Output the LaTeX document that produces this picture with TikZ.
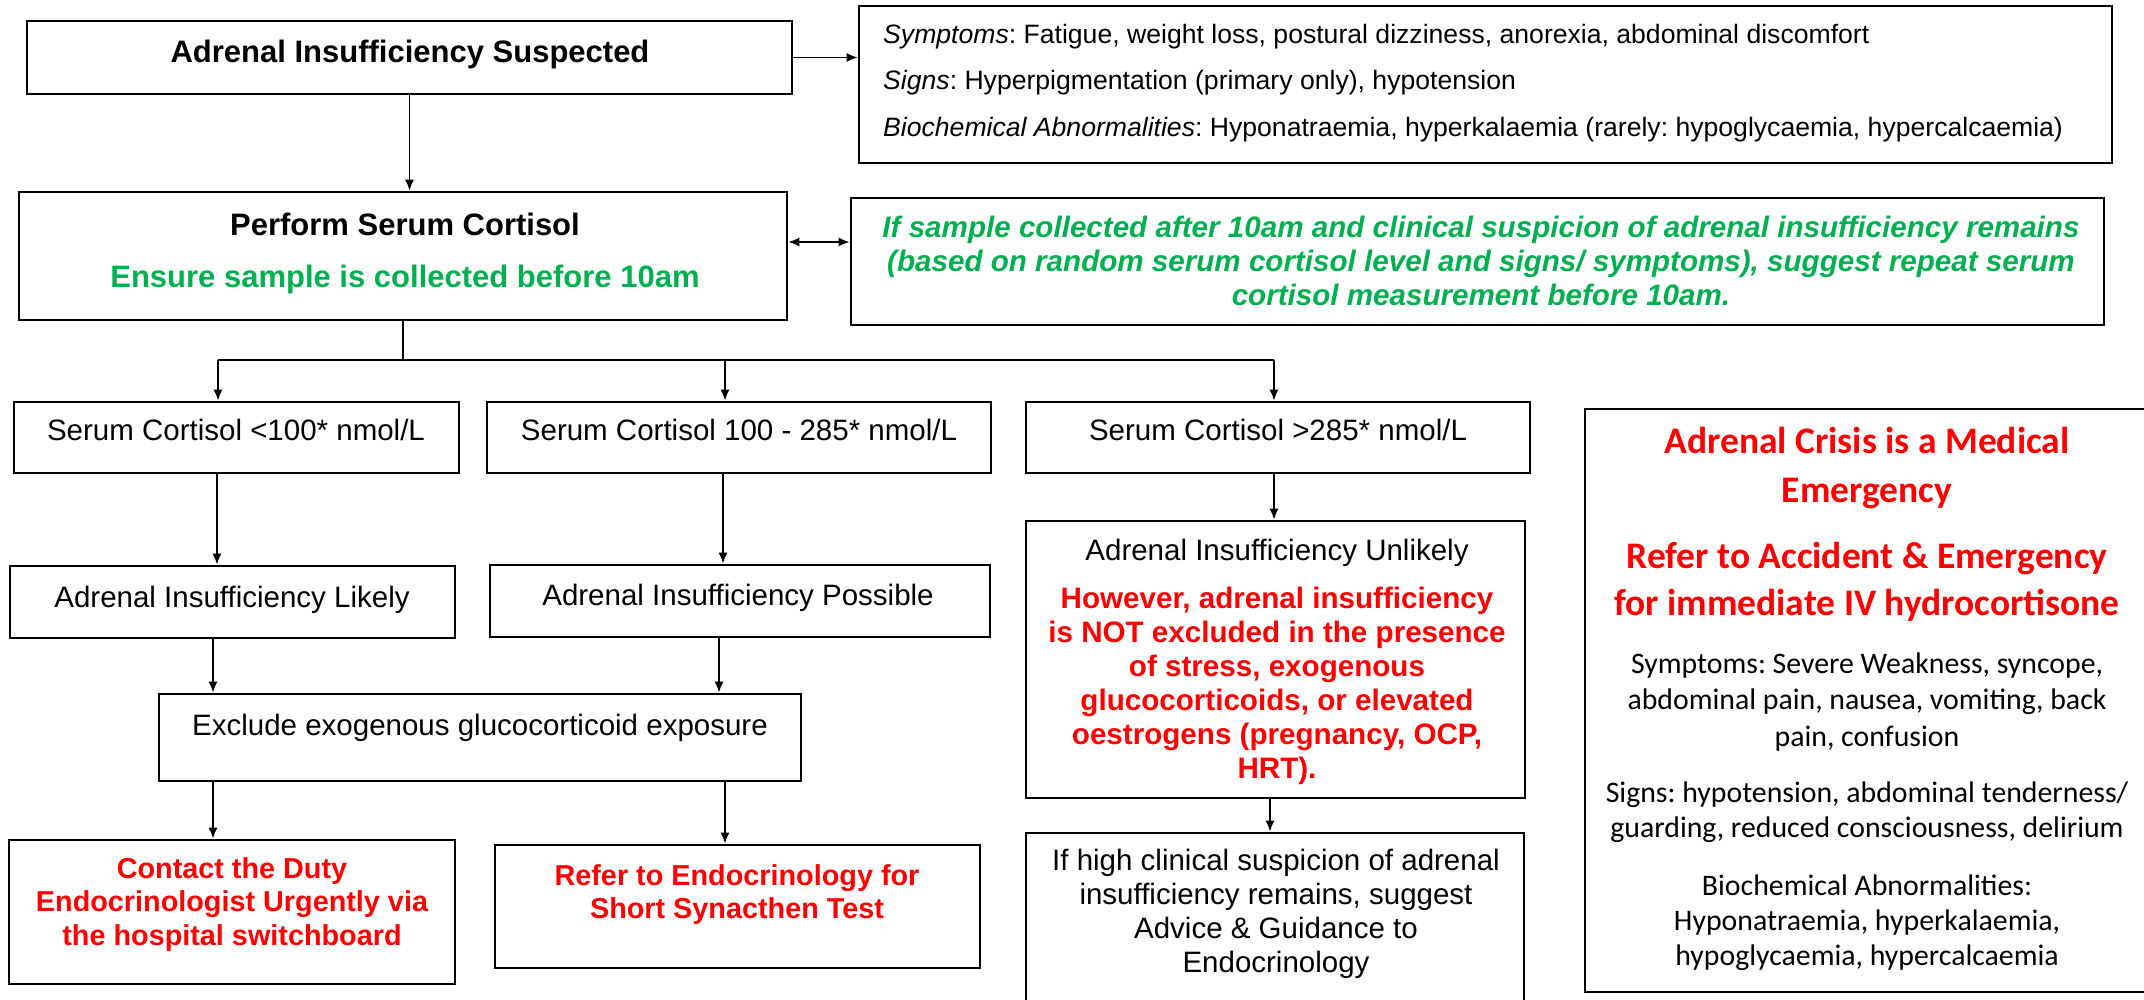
\documentclass[tikz,border=0pt]{standalone}
\usepackage{fontspec}
\setmainfont{Liberation Sans}
\newfontfamily\calib{Carlito}
\usetikzlibrary{arrows.meta}
\frenchspacing
\definecolor{gr}{HTML}{00B050}
\definecolor{rd}{HTML}{FF0000}
\newcommand\lns[1]{\begin{tabular}[t]{@{}c@{}}#1\end{tabular}}
\newcommand\lnsl[1]{\begin{tabular}[t]{@{}l@{}}#1\end{tabular}}
\tikzset{
  bx/.style={draw=black, line width=2.6pt, inner sep=0pt},
  tx/.style={anchor=base, inner sep=0pt},
  reg/.style={font=\fontsize{29.5}{34}\selectfont},
  ln/.style={line width=1.8pt},
  arr/.style={ln, -{Latex[length=11pt,width=9pt]}},
  darr/.style={ln, {Latex[length=11pt,width=9pt]}-{Latex[length=11pt,width=9pt]}},
}
\begin{document}
\begin{tikzpicture}[x=1pt,y=-1pt]
\useasboundingbox (0,0) rectangle (2144,999);
\fill[white] (0,0) rectangle (2144,999);

% boxes
\node[bx, minimum width=765pt, minimum height=73pt] (susp) at (409.5,57.5) {};
\node[tx, font=\bfseries\fontsize{31}{36}\selectfont] (susp-t) at (410,62) {Adrenal Insufficiency Suspected};

\node[bx, minimum width=1253pt, minimum height=157pt] (symp) at (1485.5,84.5) {};
\node[tx, anchor=base west, font=\fontsize{26.6}{46.5}\selectfont] (symp-t) at (883,43) {\lnsl{\textit{Symptoms}: Fatigue, weight loss, postural dizziness, anorexia, abdominal discomfort\\ \textit{Signs}: Hyperpigmentation (primary only), hypotension\\ \textit{Biochemical Abnormalities}: Hyponatraemia, hyperkalaemia (rarely: hypoglycaemia, hypercalcaemia)}};

\node[bx, minimum width=768pt, minimum height=128pt] (perform) at (403,256) {};
\node[tx, font=\bfseries\fontsize{31}{52}\selectfont] (perform-t) at (405,235) {\lns{Perform Serum Cortisol\\ \textcolor{gr}{Ensure sample is collected before 10am}}};

\node[bx, minimum width=1253pt, minimum height=127pt] (note) at (1477.5,261.5) {};
\node[tx, text=gr, font=\bfseries\itshape\fontsize{29.6}{34}\selectfont] (note-t) at (1481,237) {\lns{If sample collected after 10am and clinical suspicion of adrenal insufficiency remains\\ (based on random serum cortisol level and signs/ symptoms), suggest repeat serum\\ cortisol measurement before 10am.}};

\node[bx, minimum width=445pt, minimum height=71pt] (c1) at (236.5,437.5) {};
\node[tx, reg] (c1-t) at (236,440) {Serum Cortisol <100* nmol/L};
\node[bx, minimum width=504pt, minimum height=71pt] (c2) at (739,437.5) {};
\node[tx, reg] (c2-t) at (739,440) {Serum Cortisol 100 - 285* nmol/L};
\node[bx, minimum width=504pt, minimum height=71pt] (c3) at (1278,437.5) {};
\node[tx, reg] (c3-t) at (1278,440) {Serum Cortisol >285* nmol/L};

\node[bx, minimum width=445pt, minimum height=72pt] (likely) at (232.5,602) {};
\node[tx, reg] (likely-t) at (232,607) {Adrenal Insufficiency Likely};
\node[bx, minimum width=500pt, minimum height=72pt] (possible) at (740,601) {};
\node[tx, reg] (possible-t) at (738,605) {Adrenal Insufficiency Possible};

\node[bx, minimum width=642pt, minimum height=87pt] (exclude) at (480,737.5) {};
\node[tx, reg] (exclude-t) at (480,735) {Exclude exogenous glucocorticoid exposure};

\node[bx, minimum width=446pt, minimum height=144pt] (contact) at (232,912) {};
\node[tx, text=rd, font=\bfseries\fontsize{28.8}{33.5}\selectfont] (contact-t) at (232,878) {\lns{Contact the Duty\\ Endocrinologist Urgently via\\ the hospital switchboard}};

\node[bx, minimum width=485pt, minimum height=123pt] (refer) at (737.5,906.5) {};
\node[tx, text=rd, font=\bfseries\fontsize{28.8}{33}\selectfont] (refer-t) at (737,885) {\lns{Refer to Endocrinology for\\ Short Synacthen Test}};

\node[bx, minimum width=499pt, minimum height=277pt] (unlikely) at (1275.5,659.5) {};
\node[tx, reg] (unlikely-t) at (1277,560) {Adrenal Insufficiency Unlikely};
\node[tx, text=rd, font=\bfseries\fontsize{29.6}{34}\selectfont] (unlikely-r) at (1277,608) {\lns{However, adrenal insufficiency\\ is NOT excluded in the presence\\ of stress, exogenous\\ glucocorticoids, or elevated\\ oestrogens (pregnancy, OCP,\\ HRT).}};

\node[bx, minimum width=498pt, minimum height=170pt] (advice) at (1275,918) {};
\node[tx, font=\fontsize{29.5}{34.3}\selectfont] (advice-t) at (1276,870) {\lns{If high clinical suspicion of adrenal\\ insufficiency remains, suggest\\ Advice \& Guidance to\\ Endocrinology}};

\node[bx, minimum width=564pt, minimum height=583pt] (crisis) at (1867,700.5) {};
\node[tx, text=rd, font=\calib\bfseries\fontsize{37.5}{49}\selectfont] (crisis-a) at (1867,453) {\lns{Adrenal Crisis is a Medical\\ Emergency}};
\node[tx, text=rd, font=\calib\bfseries\fontsize{37.5}{47}\selectfont] (crisis-b) at (1867,568) {\lns{Refer to Accident \& Emergency\\ for immediate IV hydrocortisone}};
\node[tx, font=\calib\fontsize{29.8}{36.5}\selectfont] (crisis-c) at (1867,673) {\lns{Symptoms: Severe Weakness, syncope,\\ abdominal pain, nausea, vomiting, back\\ pain, confusion}};
\node[tx, font=\calib\fontsize{29.8}{35}\selectfont] (crisis-d) at (1867,802) {\lns{Signs: hypotension, abdominal tenderness/\\ guarding, reduced consciousness, delirium}};
\node[tx, font=\calib\fontsize{29.8}{35}\selectfont] (crisis-e) at (1867,895) {\lns{Biochemical Abnormalities:\\ Hyponatraemia, hyperkalaemia,\\ hypoglycaemia, hypercalcaemia}};

% coordinates for connector columns
\coordinate (kA) at (217,0);
\coordinate (kB) at (723,0);
\coordinate (kC) at (1274,0);
\coordinate (kD) at (213,0);
\coordinate (kE) at (719,0);
\coordinate (kF) at (725,0);
\coordinate (kG) at (1270,0);
\coordinate (dy) at (0,242);
\coordinate (busL) at (218,360);
\coordinate (busM) at (725,360);
\coordinate (busR) at (1274,360);

% connectors
\draw[arr] (susp.south) -- (perform.north -| susp.south);
\draw[arr] (susp.east) -- (symp.west |- susp.east);
\draw[darr] (perform.east |- dy) -- (note.west |- dy);
\draw[ln] (perform.south) -- (perform.south |- busL);
\draw[ln] (busL) -- (busR);
\draw[arr] (busL) -- (busL |- c1.north);
\draw[arr] (busM) -- (busM |- c2.north);
\draw[arr] (busR) -- (busR |- c3.north);
\draw[arr] (c1.south -| kA) -- (likely.north -| kA);
\draw[arr] (c2.south -| kB) -- (possible.north -| kB);
\draw[arr] (c3.south -| kC) -- (unlikely.north -| kC);
\draw[arr] (likely.south -| kD) -- (exclude.north -| kD);
\draw[arr] (possible.south -| kE) -- (exclude.north -| kE);
\draw[arr] (exclude.south -| kD) -- (contact.north -| kD);
\draw[arr] (exclude.south -| kF) -- (refer.north -| kF);
\draw[arr] (unlikely.south -| kG) -- (advice.north -| kG);
\end{tikzpicture}
\end{document}
